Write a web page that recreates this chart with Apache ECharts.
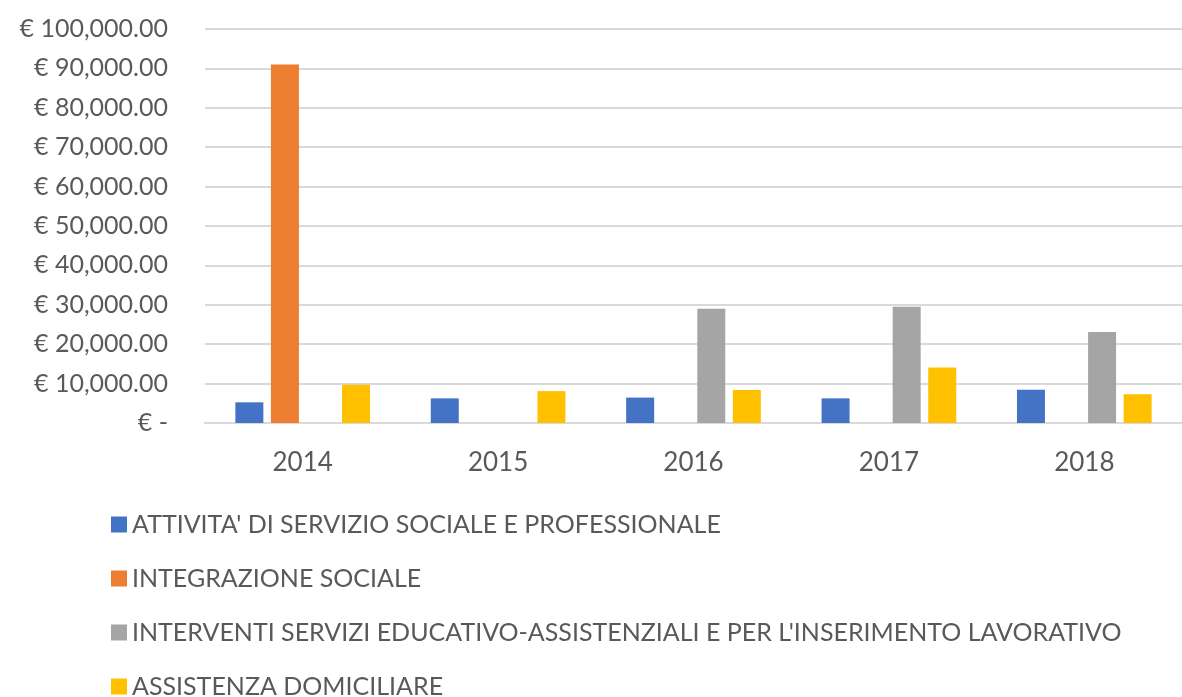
<!DOCTYPE html>
<html lang="it">
<head>
    <meta charset="UTF-8">
    <title>Spesa per area</title>
    <script type="text/javascript" src="https://cdn.jsdelivr.net/npm/echarts@6/dist/echarts.min.js"></script>
    <style>
        html, body { margin: 0; padding: 0; background: #fff; }
        #chart { width: 1182px; height: 697px; }
    </style>
</head>
<body>
<div id="chart"></div>

<script type="text/javascript">
    var years = ['2014', '2015', '2016', '2017', '2018'];

    var seriesNames = [
        "ATTIVITA' DI SERVIZIO SOCIALE E PROFESSIONALE",
        'INTEGRAZIONE SOCIALE',
        "INTERVENTI SERVIZI EDUCATIVO-ASSISTENZIALI E PER L'INSERIMENTO LAVORATIVO",
        'ASSISTENZA DOMICILIARE'
    ];

    var servizioSociale = [5250, 6250, 6450, 6250, 8450];
    var integrazioneSociale = [91000, null, null, null, null];
    var interventiEducativi = [null, null, 29000, 29500, 23100];
    var assistenzaDomiciliare = [9700, 8100, 8400, 14100, 7300];

    var colors = ['#4472c4', '#ed7d31', '#a5a5a5', '#ffc000'];

    function euro(v) {
        if (v == 0) {
            return '€ -';
        }
        return '€ ' + v.toLocaleString('en-US', { minimumFractionDigits: 2, maximumFractionDigits: 2 });
    }

    var chart = echarts.init(document.getElementById('chart'));

    var allData = [servizioSociale, integrazioneSociale, interventiEducativi, assistenzaDomiciliare];
    var series = [];
    for (var i = 0; i < allData.length; i++) {
        series.push({
            name: seriesNames[i],
            type: 'bar',
            data: allData[i],
            barWidth: 28,
            barGap: '27%',
            itemStyle: { color: colors[i] }
        });
    }

    chart.setOption({
        animation: false,
        textStyle: { fontFamily: 'Lato' },
        grid: {
            left: 205,
            right: 0,
            top: 29,
            bottom: 274,
            containLabel: false
        },
        legend: {
            orient: 'vertical',
            left: 111,
            top: 512,
            height: 400,
            padding: 0,
            itemWidth: 16,
            itemHeight: 16,
            itemGap: 29,
            icon: 'rect',
            textStyle: { fontSize: 25, color: '#595959', fontFamily: 'Lato' },
            data: seriesNames
        },
        xAxis: {
            type: 'category',
            data: years,
            axisLine: { lineStyle: { color: '#d9d9d9', width: 2 } },
            axisTick: { show: false },
            axisLabel: { fontSize: 26, color: '#595959', margin: 27 }
        },
        yAxis: {
            type: 'value',
            min: 0,
            max: 100000,
            interval: 10000,
            axisLine: { show: false },
            axisTick: { show: false },
            splitLine: { lineStyle: { color: '#d9d9d9', width: 2 } },
            axisLabel: {
                fontSize: 25,
                color: '#595959',
                margin: 37,
                formatter: euro
            }
        },
        series: series
    });
</script>
</body>
</html>
